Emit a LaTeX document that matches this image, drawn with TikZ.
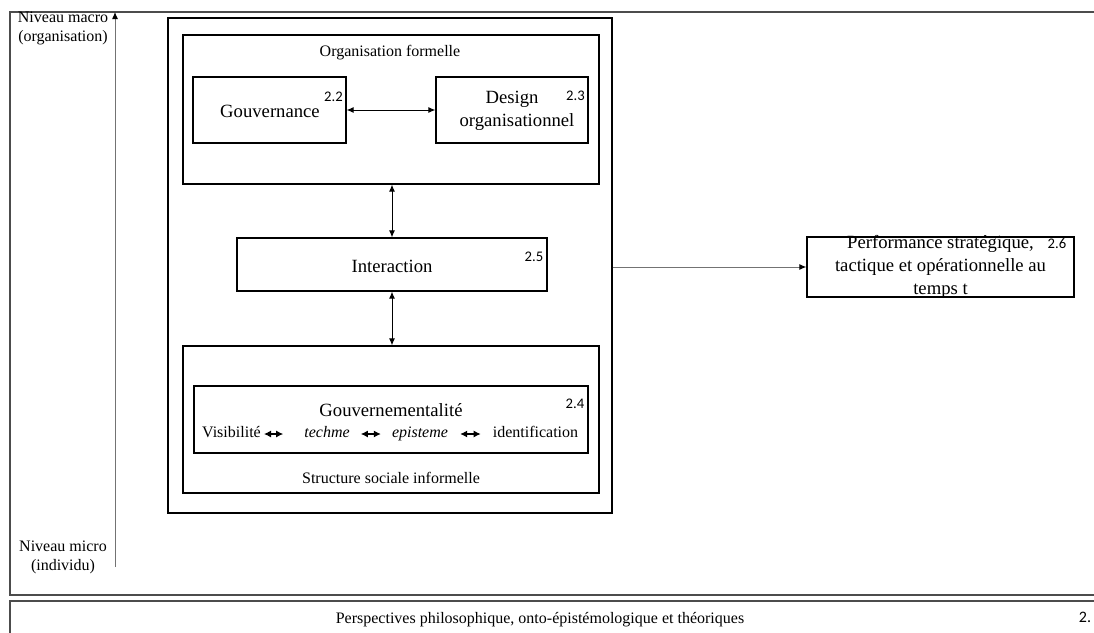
\documentclass[tikz,border=0pt]{standalone}
\usepackage{fontspec}
\setmainfont{Liberation Serif}
\newfontfamily\numfont{Carlito}
\usetikzlibrary{arrows.meta}
\newcommand{\txtS}{\fontsize{16}{19}\selectfont}
\newcommand{\txtL}{\fontsize{18.67}{22.5}\selectfont}
\newcommand{\txtN}{\numfont\fontsize{14.67}{16}\selectfont}
\begin{document}
\begin{tikzpicture}[x=1pt,y=-1pt,
  box/.style={draw=black,line width=1.3pt,rectangle,inner sep=0pt,anchor=center},
  lbl/.style={inner sep=0pt,anchor=center,font=\txtS},
  rowlbl/.style={inner sep=0pt,anchor=center,font=\txtS,text height=11pt,text depth=4pt},
  big/.style={inner sep=0pt,anchor=center,font=\txtL,align=center},
  num/.style={inner sep=0pt,anchor=center,font=\txtN},
  frame/.style={draw=black!70,line width=2pt},
  biarrow/.style={{Latex[length=7pt,width=6pt]}-{Latex[length=7pt,width=6pt]},line width=0.9pt},
  rowarrow/.style={{Latex[length=7pt,width=7pt]}-{Latex[length=7pt,width=7pt]},line width=1.1pt},
  outarrow/.style={-{Latex[length=7pt,width=6pt,black]},draw=black!55,line width=1pt}]
\useasboundingbox (0,0) rectangle (1094,632);
\clip (0,0) rectangle (1094,632);

% page frames
\draw[frame] (10,12) rectangle (1120,595);
\draw[frame] (10,601) rectangle (1120,660);

% macro / micro axis
\node[lbl,align=center] (macro) at (63,28) {Niveau macro\\(organisation)};
\node[lbl,align=center] (micro) at (63,557) {Niveau micro\\(individu)};
\coordinate (axbot) at (115,567);
\coordinate (axtop) at (115,12);
\draw[outarrow] (axbot) -- (axtop);

% main block
\node[box,minimum width=444pt,minimum height=495pt] (outer) at (390,265.5) {};

% formal organisation
\node[box,minimum width=416pt,minimum height=149pt] (formelle) at (391,109.5) {};
\node[lbl] (tformelle) at (390,53) {Organisation formelle};
\node[box,minimum width=153pt,minimum height=66pt] (gouv) at (269.5,110) {};
\node[big] (tgouv) at (270,111) {Gouvernance};
\node[num] (n22) at (333.5,97) {2.2};
\node[box,minimum width=152pt,minimum height=66pt] (design) at (512,110) {};
\node[big] (tdesign) at (517,111) {\hspace*{-10pt}Design\\organisationnel};
\node[num] (n23) at (575.5,96) {2.3};
\draw[biarrow] (gouv.east) -- (design.west);

% interaction
\node[box,minimum width=310pt,minimum height=53pt] (inter) at (392,264.5) {};
\node[big] (tinter) at (392,266) {Interaction};
\node[num] (n25) at (534,257) {2.5};

% informal social structure
\node[box,minimum width=416pt,minimum height=147pt] (informelle) at (391,419.5) {};
\node[box,minimum width=394pt,minimum height=67pt] (govt) at (391,419.5) {};
\node[big] (tgovt) at (391,410) {Gouvernementalité};
\node[num] (n24) at (575,404) {2.4};
\node[rowlbl] (vis) at (231.5,434) {Visibilité};
\node[rowlbl] (tech) at (327,434) {\itshape techme};
\node[rowlbl] (epi) at (420,434) {\itshape episteme};
\node[rowlbl] (ident) at (535.5,434) {identification};
\draw[rowarrow] ([xshift=3pt]vis.east) -- ([xshift=-21pt]tech.west);
\draw[rowarrow] ([xshift=11pt]tech.east) -- ([xshift=-11pt]epi.west);
\draw[rowarrow] ([xshift=12pt]epi.east) -- ([xshift=-12pt]ident.west);
\node[lbl] (tinformelle) at (391,478) {Structure sociale informelle};

% vertical links
\draw[biarrow] (inter.north) -- (inter.north |- formelle.south);
\draw[biarrow] (inter.south) -- (inter.south |- informelle.north);

% performance
\node[box,minimum width=267pt,minimum height=60pt] (perf) at (940.5,267) {};
\node[big,font=\fontsize{18.67}{23}\selectfont] (tperf) at (940.5,267) {Performance stratégique,\\tactique et opérationnelle au\\temps t};
\node[num] (n26) at (1057,244) {2.6};
\draw[outarrow] (outer.east |- perf.west) -- (perf.west);

% perspectives
\node[lbl] (persp) at (540,620) {Perspectives philosophique, onto-épistémologique et théoriques};
\node[num,font=\numfont\fontsize{16}{18}\selectfont] (n2) at (1085,617) {2.};
\end{tikzpicture}
\end{document}
